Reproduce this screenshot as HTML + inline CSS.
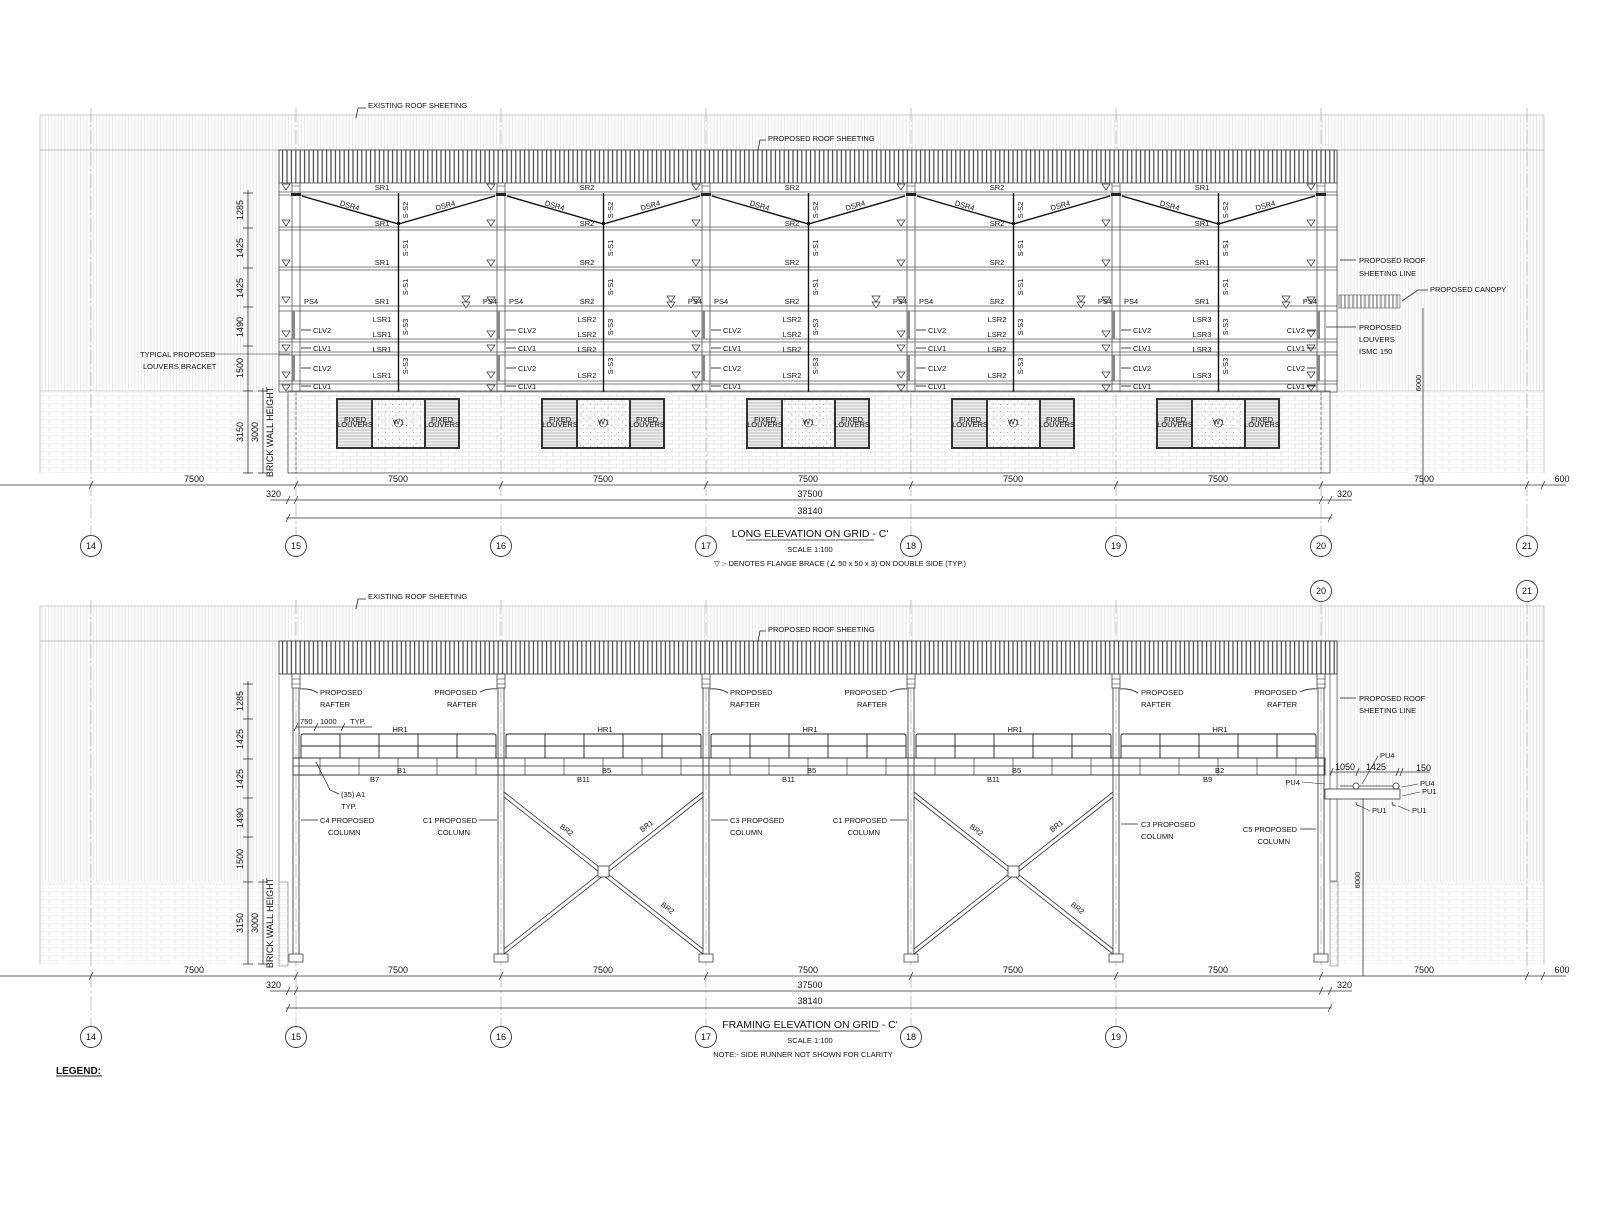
<!DOCTYPE html>
<html><head><meta charset="utf-8"><style>
html,body{margin:0;padding:0;background:#fff}
svg{display:block}
text{font-family:"Liberation Sans Narrow","Liberation Sans",sans-serif;font-size:7.5px;fill:#111}
.t9{font-size:9px}.t10{font-size:10.5px}
.m{text-anchor:middle}.e{text-anchor:end}
</style></head><body>
<svg width="1600" height="1222" viewBox="0 0 1600 1222" xmlns="http://www.w3.org/2000/svg">
<defs>
<pattern id="hl" width="3.2" height="10" patternUnits="userSpaceOnUse"><line x1="0.5" y1="0" x2="0.5" y2="10" stroke="#dcdcdc" stroke-width="0.7"/></pattern>
<pattern id="rp" width="4.4" height="10" patternUnits="userSpaceOnUse"><rect width="4.4" height="10" fill="#fff"/><line x1="1" y1="0" x2="1" y2="10" stroke="#444" stroke-width="1.2"/></pattern>
<pattern id="br" width="14" height="8" patternUnits="userSpaceOnUse"><path d="M0 0H14M0 4H14M0 0V4M7 4V8" stroke="#d8d8d8" stroke-width="0.6" fill="none"/></pattern>
<pattern id="lv" width="4" height="3" patternUnits="userSpaceOnUse"><rect width="4" height="3" fill="#eee"/><line x1="0" y1="1" x2="4" y2="1" stroke="#aaa" stroke-width="0.7"/></pattern>
<pattern id="dt" width="7" height="7" patternUnits="userSpaceOnUse"><circle cx="2" cy="2" r="0.5" fill="#999"/><circle cx="5.5" cy="5.5" r="0.5" fill="#999"/></pattern>
<pattern id="cp" width="4" height="10" patternUnits="userSpaceOnUse"><line x1="1" y1="0" x2="1" y2="10" stroke="#555" stroke-width="0.9"/></pattern>
<g id="tri"><path d="M-4,-3 L4,-3 L0,3 Z" fill="#fff" stroke="#333" stroke-width="0.7"/></g>
<g id="colT">
<line x1="-4" y1="183" x2="-4" y2="392" stroke="#555" stroke-width="0.8"/>
<line x1="4" y1="183" x2="4" y2="392" stroke="#555" stroke-width="0.8"/>
<rect x="-4" y="311" width="3" height="28" fill="#888"/>
<rect x="-4" y="355" width="3" height="26" fill="#888"/>
<rect x="-5" y="193" width="10" height="3" fill="#222"/>
<line x1="-4" y1="186" x2="4" y2="186" stroke="#555" stroke-width="0.6"/>
</g>
<g id="triC">
<use href="#tri" x="-10" y="187"/><use href="#tri" x="-10" y="223"/><use href="#tri" x="-10" y="263"/>
<use href="#tri" x="-10" y="300"/><use href="#tri" x="-10" y="334"/><use href="#tri" x="-10" y="348"/><use href="#tri" x="-10" y="375"/><use href="#tri" x="-10" y="388"/>
</g>
<g id="bayT">
<line x1="102.5" y1="193" x2="102.5" y2="392" stroke="#111" stroke-width="1.4"/>
<polyline points="6,196 102.5,224 199,196" fill="none" stroke="#111" stroke-width="1.4"/>
<rect x="102.5" y="222" width="3" height="3" fill="#111" transform="translate(-1.5,0)"/>
<rect x="41" y="399" width="122" height="49" fill="url(#dt)" stroke="#333" stroke-width="2"/>
<rect x="41" y="399" width="35" height="49" fill="url(#lv)" stroke="#333" stroke-width="2"/>
<rect x="129" y="399" width="34" height="49" fill="url(#lv)" stroke="#333" stroke-width="2"/>
<circle cx="102.5" cy="423" r="4" fill="#fff" stroke="#333" stroke-width="0.6"/>
<use href="#tri" x="170" y="299"/><use href="#tri" x="170" y="305"/>
</g>
<g id="colB">
<line x1="-3" y1="674" x2="-3" y2="960" stroke="#444" stroke-width="0.9"/>
<line x1="3" y1="674" x2="3" y2="960" stroke="#444" stroke-width="0.9"/>
<rect x="-4" y="674" width="8" height="14" fill="#fff" stroke="#444" stroke-width="0.8"/>
<line x1="-4" y1="679" x2="4" y2="679" stroke="#444" stroke-width="0.6"/><line x1="-4" y1="684" x2="4" y2="684" stroke="#444" stroke-width="0.6"/>
<rect x="-7" y="954" width="14" height="8" fill="#fff" stroke="#444" stroke-width="0.8"/>
</g>
<g id="hrB" fill="none" stroke="#222" stroke-width="0.9">
<path d="M5,758 V736 Q5,734 7,734 H198 Q200,734 200,736 V758"/>
<line x1="5" y1="746" x2="200" y2="746"/>
<line x1="44" y1="734" x2="44" y2="758"/><line x1="83" y1="734" x2="83" y2="758"/><line x1="122" y1="734" x2="122" y2="758"/><line x1="161" y1="734" x2="161" y2="758"/>
<line x1="24" y1="758" x2="24" y2="775" stroke-width="0.6"/><line x1="63" y1="758" x2="63" y2="775" stroke-width="0.6"/><line x1="102" y1="758" x2="102" y2="775" stroke-width="0.6"/><line x1="141" y1="758" x2="141" y2="775" stroke-width="0.6"/><line x1="180" y1="758" x2="180" y2="775" stroke-width="0.6"/>
</g>
<g id="brace" fill="none" stroke="#333" stroke-width="0.8">
<line x1="3" y1="792" x2="202" y2="949"/><line x1="3" y1="797" x2="202" y2="954"/>
<line x1="3" y1="949" x2="202" y2="792"/><line x1="3" y1="954" x2="202" y2="797"/>
<rect x="97" y="866" width="11" height="11" fill="#fff"/>
</g>
</defs>

<!-- ================= TOP ELEVATION ================= -->
<rect x="40" y="115" width="1504" height="276" fill="url(#hl)"/>
<rect x="40" y="391" width="1504" height="82" fill="url(#br)"/>
<line x1="40" y1="115" x2="1544" y2="115" stroke="#bbb" stroke-width="0.8"/>
<line x1="40" y1="150" x2="1544" y2="150" stroke="#aaa" stroke-width="0.8"/>
<line x1="40" y1="115" x2="40" y2="473" stroke="#bbb" stroke-width="0.8"/>
<line x1="1544" y1="115" x2="1544" y2="473" stroke="#bbb" stroke-width="0.8"/>
<line x1="40" y1="391" x2="279" y2="391" stroke="#ccc" stroke-width="0.8"/>
<line x1="1337" y1="391" x2="1544" y2="391" stroke="#ccc" stroke-width="0.8"/>
<g stroke="#aaa" stroke-width="0.7" stroke-dasharray="14,3,2,3">
<line x1="91" y1="108" x2="91" y2="536"/><line x1="1527" y1="108" x2="1527" y2="536"/>
<line x1="296" y1="108" x2="296" y2="536"/><line x1="501" y1="108" x2="501" y2="536"/><line x1="706" y1="108" x2="706" y2="536"/><line x1="911" y1="108" x2="911" y2="536"/><line x1="1116" y1="108" x2="1116" y2="536"/><line x1="1321" y1="108" x2="1321" y2="536"/>
</g>
<rect x="279" y="150" width="1058" height="33" fill="url(#rp)" stroke="#333" stroke-width="0.8"/>
<rect x="279" y="183" width="1058" height="209" fill="#fff" stroke="#555" stroke-width="0.8"/>
<rect x="288" y="391" width="1042" height="82" fill="url(#br)" stroke="#555" stroke-width="0.8"/>
<line x1="296" y1="392" x2="296" y2="473" stroke="#555" stroke-width="0.7" stroke-dasharray="3,2"/>
<line x1="1321" y1="392" x2="1321" y2="473" stroke="#555" stroke-width="0.7" stroke-dasharray="3,2"/>
<g stroke="#555" stroke-width="0.8">
<line x1="279" y1="192" x2="1337" y2="192"/><line x1="279" y1="195" x2="1337" y2="195"/>
<line x1="279" y1="227" x2="1337" y2="227"/><line x1="279" y1="230" x2="1337" y2="230"/>
<line x1="279" y1="267" x2="1337" y2="267"/><line x1="279" y1="270" x2="1337" y2="270"/>
<line x1="279" y1="306" x2="1337" y2="306"/><line x1="279" y1="311" x2="1337" y2="311"/>
<line x1="279" y1="339" x2="1337" y2="339"/><line x1="279" y1="342" x2="1337" y2="342"/>
<line x1="279" y1="352" x2="1337" y2="352"/><line x1="279" y1="355" x2="1337" y2="355"/>
<line x1="279" y1="381" x2="1337" y2="381"/><line x1="279" y1="384" x2="1337" y2="384"/>
</g>
<use href="#bayT" x="296"/><use href="#bayT" x="501"/><use href="#bayT" x="706"/><use href="#bayT" x="911"/><use href="#bayT" x="1116"/>
<use href="#colT" x="296"/><use href="#colT" x="501"/><use href="#colT" x="706"/><use href="#colT" x="911"/><use href="#colT" x="1116"/><use href="#colT" x="1321"/>
<use href="#triC" x="296"/><use href="#triC" x="501"/><use href="#triC" x="706"/><use href="#triC" x="911"/><use href="#triC" x="1116"/><use href="#triC" x="1321"/>

<g>
<text class="m" x="382" y="190">SR1</text><text class="m" x="382" y="226">SR1</text><text class="m" x="382" y="265">SR1</text><text class="m" x="382" y="304">SR1</text>
<text class="m" x="382" y="322">LSR1</text><text class="m" x="382" y="337">LSR1</text><text class="m" x="382" y="352">LSR1</text><text class="m" x="382" y="378">LSR1</text>
<text class="m" x="587" y="190">SR2</text><text class="m" x="587" y="226">SR2</text><text class="m" x="587" y="265">SR2</text><text class="m" x="587" y="304">SR2</text>
<text class="m" x="587" y="322">LSR2</text><text class="m" x="587" y="337">LSR2</text><text class="m" x="587" y="352">LSR2</text><text class="m" x="587" y="378">LSR2</text>
<text class="m" x="792" y="190">SR2</text><text class="m" x="792" y="226">SR2</text><text class="m" x="792" y="265">SR2</text><text class="m" x="792" y="304">SR2</text>
<text class="m" x="792" y="322">LSR2</text><text class="m" x="792" y="337">LSR2</text><text class="m" x="792" y="352">LSR2</text><text class="m" x="792" y="378">LSR2</text>
<text class="m" x="997" y="190">SR2</text><text class="m" x="997" y="226">SR2</text><text class="m" x="997" y="265">SR2</text><text class="m" x="997" y="304">SR2</text>
<text class="m" x="997" y="322">LSR2</text><text class="m" x="997" y="337">LSR2</text><text class="m" x="997" y="352">LSR2</text><text class="m" x="997" y="378">LSR2</text>
<text class="m" x="1202" y="190">SR1</text><text class="m" x="1202" y="226">SR1</text><text class="m" x="1202" y="265">SR1</text><text class="m" x="1202" y="304">SR1</text>
<text class="m" x="1202" y="322">LSR3</text><text class="m" x="1202" y="337">LSR3</text><text class="m" x="1202" y="352">LSR3</text><text class="m" x="1202" y="378">LSR3</text>
</g>
<g>
<text class="m" transform="translate(349,208) rotate(16)">DSR4</text><text class="m" transform="translate(446,208) rotate(-16)">DSR4</text>
<text class="m" transform="translate(554,208) rotate(16)">DSR4</text><text class="m" transform="translate(651,208) rotate(-16)">DSR4</text>
<text class="m" transform="translate(759,208) rotate(16)">DSR4</text><text class="m" transform="translate(856,208) rotate(-16)">DSR4</text>
<text class="m" transform="translate(964,208) rotate(16)">DSR4</text><text class="m" transform="translate(1061,208) rotate(-16)">DSR4</text>
<text class="m" transform="translate(1169,208) rotate(16)">DSR4</text><text class="m" transform="translate(1266,208) rotate(-16)">DSR4</text>
</g>
<g>
<text class="m" transform="translate(408,210) rotate(-90)">S-S2</text><text class="m" transform="translate(408,248) rotate(-90)">S-S1</text><text class="m" transform="translate(408,287) rotate(-90)">S-S1</text><text class="m" transform="translate(408,327) rotate(-90)">S-S3</text><text class="m" transform="translate(408,366) rotate(-90)">S-S3</text>
<text class="m" transform="translate(613,210) rotate(-90)">S-S2</text><text class="m" transform="translate(613,248) rotate(-90)">S-S1</text><text class="m" transform="translate(613,287) rotate(-90)">S-S1</text><text class="m" transform="translate(613,327) rotate(-90)">S-S3</text><text class="m" transform="translate(613,366) rotate(-90)">S-S3</text>
<text class="m" transform="translate(818,210) rotate(-90)">S-S2</text><text class="m" transform="translate(818,248) rotate(-90)">S-S1</text><text class="m" transform="translate(818,287) rotate(-90)">S-S1</text><text class="m" transform="translate(818,327) rotate(-90)">S-S3</text><text class="m" transform="translate(818,366) rotate(-90)">S-S3</text>
<text class="m" transform="translate(1023,210) rotate(-90)">S-S2</text><text class="m" transform="translate(1023,248) rotate(-90)">S-S1</text><text class="m" transform="translate(1023,287) rotate(-90)">S-S1</text><text class="m" transform="translate(1023,327) rotate(-90)">S-S3</text><text class="m" transform="translate(1023,366) rotate(-90)">S-S3</text>
<text class="m" transform="translate(1228,210) rotate(-90)">S-S2</text><text class="m" transform="translate(1228,248) rotate(-90)">S-S1</text><text class="m" transform="translate(1228,287) rotate(-90)">S-S1</text><text class="m" transform="translate(1228,327) rotate(-90)">S-S3</text><text class="m" transform="translate(1228,366) rotate(-90)">S-S3</text>
</g>
<g>
<text x="304" y="304">PS4</text>
<text class="e" x="497" y="304">PS4</text><text x="509" y="304">PS4</text>
<text class="e" x="702" y="304">PS4</text><text x="714" y="304">PS4</text>
<text class="e" x="907" y="304">PS4</text><text x="919" y="304">PS4</text>
<text class="e" x="1112" y="304">PS4</text><text x="1124" y="304">PS4</text>
<text class="e" x="1317" y="304">PS4</text>
</g>
<g stroke="#111" stroke-width="0.8">
<line x1="301" y1="330" x2="311" y2="330"/><line x1="301" y1="348" x2="311" y2="348"/><line x1="301" y1="368" x2="311" y2="368"/><line x1="301" y1="386" x2="311" y2="386"/>
<line x1="506" y1="330" x2="516" y2="330"/><line x1="506" y1="348" x2="516" y2="348"/><line x1="506" y1="368" x2="516" y2="368"/><line x1="506" y1="386" x2="516" y2="386"/>
<line x1="711" y1="330" x2="721" y2="330"/><line x1="711" y1="348" x2="721" y2="348"/><line x1="711" y1="368" x2="721" y2="368"/><line x1="711" y1="386" x2="721" y2="386"/>
<line x1="916" y1="330" x2="926" y2="330"/><line x1="916" y1="348" x2="926" y2="348"/><line x1="916" y1="368" x2="926" y2="368"/><line x1="916" y1="386" x2="926" y2="386"/>
<line x1="1121" y1="330" x2="1131" y2="330"/><line x1="1121" y1="348" x2="1131" y2="348"/><line x1="1121" y1="368" x2="1131" y2="368"/><line x1="1121" y1="386" x2="1131" y2="386"/>
<line x1="1307" y1="330" x2="1316" y2="330"/><line x1="1307" y1="348" x2="1316" y2="348"/><line x1="1307" y1="368" x2="1316" y2="368"/><line x1="1307" y1="386" x2="1316" y2="386"/>
</g>
<g>
<text x="313" y="333">CLV2</text><text x="313" y="351">CLV1</text><text x="313" y="371">CLV2</text><text x="313" y="389">CLV1</text>
<text x="518" y="333">CLV2</text><text x="518" y="351">CLV1</text><text x="518" y="371">CLV2</text><text x="518" y="389">CLV1</text>
<text x="723" y="333">CLV2</text><text x="723" y="351">CLV1</text><text x="723" y="371">CLV2</text><text x="723" y="389">CLV1</text>
<text x="928" y="333">CLV2</text><text x="928" y="351">CLV1</text><text x="928" y="371">CLV2</text><text x="928" y="389">CLV1</text>
<text x="1133" y="333">CLV2</text><text x="1133" y="351">CLV1</text><text x="1133" y="371">CLV2</text><text x="1133" y="389">CLV1</text>
<text class="e" x="1305" y="333">CLV2</text><text class="e" x="1305" y="351">CLV1</text><text class="e" x="1305" y="371">CLV2</text><text class="e" x="1305" y="389">CLV1</text>
</g>
<g style="font-size:3.6px">
<text class="m" x="355" y="422">FIXED</text><text class="m" x="355" y="427">LOUVERS</text><text class="m" x="442" y="422">FIXED</text><text class="m" x="442" y="427">LOUVERS</text>
<text class="m" x="560" y="422">FIXED</text><text class="m" x="560" y="427">LOUVERS</text><text class="m" x="647" y="422">FIXED</text><text class="m" x="647" y="427">LOUVERS</text>
<text class="m" x="765" y="422">FIXED</text><text class="m" x="765" y="427">LOUVERS</text><text class="m" x="852" y="422">FIXED</text><text class="m" x="852" y="427">LOUVERS</text>
<text class="m" x="970" y="422">FIXED</text><text class="m" x="970" y="427">LOUVERS</text><text class="m" x="1057" y="422">FIXED</text><text class="m" x="1057" y="427">LOUVERS</text>
<text class="m" x="1175" y="422">FIXED</text><text class="m" x="1175" y="427">LOUVERS</text><text class="m" x="1262" y="422">FIXED</text><text class="m" x="1262" y="427">LOUVERS</text>
<text class="m" x="398.5" y="424.5">W1</text><text class="m" x="603.5" y="424.5">W1</text><text class="m" x="808.5" y="424.5">W1</text><text class="m" x="1013.5" y="424.5">W1</text><text class="m" x="1218.5" y="424.5">W1</text>
</g>
<path d="M356,118 L358,108 H366" fill="none" stroke="#222" stroke-width="0.8"/>
<text x="368" y="108">EXISTING ROOF SHEETING</text>
<path d="M758,150 L760,140 H766" fill="none" stroke="#222" stroke-width="0.8"/>
<text x="768" y="141">PROPOSED ROOF SHEETING</text>
<line x1="1340" y1="260" x2="1356" y2="260" stroke="#222" stroke-width="0.8"/>
<text x="1359" y="263">PROPOSED ROOF</text><text x="1359" y="276">SHEETING LINE</text>
<rect x="1339" y="295" width="61" height="13" fill="url(#cp)" stroke="#555" stroke-width="0.6"/>
<path d="M1402,301 L1418,290 H1428" fill="none" stroke="#222" stroke-width="0.8"/>
<text x="1430" y="292">PROPOSED CANOPY</text>
<line x1="1326" y1="327" x2="1356" y2="327" stroke="#222" stroke-width="0.8"/>
<text x="1359" y="330">PROPOSED</text><text x="1359" y="342">LOUVERS</text><text x="1359" y="354">ISMC 150</text>
<line x1="1423" y1="308" x2="1423" y2="485" stroke="#333" stroke-width="0.8"/>
<text class="m" transform="translate(1421,383) rotate(-90)">6000</text>
<line x1="210" y1="354" x2="290" y2="354" stroke="#222" stroke-width="0.6"/>
<text x="140" y="357">TYPICAL PROPOSED</text><text x="143" y="369">LOUVERS BRACKET</text>
<g stroke="#333" stroke-width="0.8">
<line x1="248" y1="190" x2="248" y2="473"/>
<line x1="243" y1="193" x2="253" y2="193"/><line x1="243" y1="228" x2="253" y2="228"/><line x1="243" y1="268" x2="253" y2="268"/><line x1="243" y1="307" x2="253" y2="307"/><line x1="243" y1="346" x2="253" y2="346"/><line x1="243" y1="391" x2="253" y2="391"/><line x1="243" y1="473" x2="253" y2="473"/>
<line x1="263" y1="388" x2="263" y2="473"/><line x1="258" y1="391" x2="268" y2="391"/><line x1="258" y1="473" x2="268" y2="473"/>
</g>
<g>
<text class="m t9" transform="translate(243,210) rotate(-90)">1285</text>
<text class="m t9" transform="translate(243,248) rotate(-90)">1425</text>
<text class="m t9" transform="translate(243,288) rotate(-90)">1425</text>
<text class="m t9" transform="translate(243,327) rotate(-90)">1490</text>
<text class="m t9" transform="translate(243,368) rotate(-90)">1500</text>
<text class="m t9" transform="translate(243,432) rotate(-90)">3150</text>
<text class="m t9" transform="translate(258,432) rotate(-90)">3000</text>
<text class="m t9" transform="translate(273,432) rotate(-90)">BRICK WALL HEIGHT</text>
</g>
<g stroke="#333" stroke-width="0.8">
<line x1="0" y1="485" x2="1566" y2="485"/>
<line x1="270" y1="500" x2="1352" y2="500"/>
<line x1="286" y1="518" x2="1332" y2="518"/>
</g>
<g stroke="#333" stroke-width="0.8">
<line x1="89" y1="489" x2="93" y2="481"/><line x1="294" y1="489" x2="298" y2="481"/><line x1="499" y1="489" x2="503" y2="481"/><line x1="704" y1="489" x2="708" y2="481"/><line x1="909" y1="489" x2="913" y2="481"/><line x1="1114" y1="489" x2="1118" y2="481"/><line x1="1319" y1="489" x2="1323" y2="481"/><line x1="1525" y1="489" x2="1529" y2="481"/><line x1="1541" y1="489" x2="1545" y2="481"/>
<line x1="286" y1="504" x2="290" y2="496"/><line x1="294" y1="504" x2="298" y2="496"/><line x1="1319" y1="504" x2="1323" y2="496"/><line x1="1328" y1="504" x2="1332" y2="496"/>
<line x1="286" y1="522" x2="290" y2="514"/><line x1="1328" y1="522" x2="1332" y2="514"/>
</g>
<g>
<text class="m t9" x="194" y="482">7500</text><text class="m t9" x="398" y="482">7500</text><text class="m t9" x="603" y="482">7500</text><text class="m t9" x="808" y="482">7500</text><text class="m t9" x="1013" y="482">7500</text><text class="m t9" x="1218" y="482">7500</text><text class="m t9" x="1424" y="482">7500</text><text class="m t9" x="1562" y="482">600</text>
<text class="t9" x="266" y="497">320</text><text class="t9" x="1337" y="497">320</text>
<text class="m t9" x="810" y="497">37500</text><text class="m t9" x="810" y="514">38140</text>
</g>
<g fill="#fff" stroke="#333" stroke-width="0.9">
<circle cx="91" cy="546" r="10.5"/><circle cx="296" cy="546" r="10.5"/><circle cx="501" cy="546" r="10.5"/><circle cx="706" cy="546" r="10.5"/><circle cx="911" cy="546" r="10.5"/><circle cx="1116" cy="546" r="10.5"/><circle cx="1321" cy="546" r="10.5"/><circle cx="1527" cy="546" r="10.5"/>
<circle cx="1321" cy="591" r="10.5"/><circle cx="1527" cy="591" r="10.5"/>
</g>
<g>
<text class="m t9" x="91" y="549">14</text><text class="m t9" x="296" y="549">15</text><text class="m t9" x="501" y="549">16</text><text class="m t9" x="706" y="549">17</text><text class="m t9" x="911" y="549">18</text><text class="m t9" x="1116" y="549">19</text><text class="m t9" x="1321" y="549">20</text><text class="m t9" x="1527" y="549">21</text>
<text class="m t9" x="1321" y="594">20</text><text class="m t9" x="1527" y="594">21</text>
</g>
<text class="m t10" x="810" y="537">LONG ELEVATION ON GRID - C'</text>
<line x1="746" y1="540" x2="874" y2="540" stroke="#222" stroke-width="0.8"/>
<text class="m" x="810" y="552">SCALE 1:100</text>
<text class="m" x="840" y="566">▽ :- DENOTES FLANGE BRACE (∠ 50 x 50 x 3) ON DOUBLE SIDE (TYP.)</text>

<!-- ================= BOTTOM ELEVATION ================= -->
<rect x="40" y="606" width="1504" height="276" fill="url(#hl)"/>
<rect x="40" y="882" width="1504" height="82" fill="url(#br)"/>
<line x1="40" y1="606" x2="1544" y2="606" stroke="#bbb" stroke-width="0.8"/>
<line x1="40" y1="641" x2="1544" y2="641" stroke="#aaa" stroke-width="0.8"/>
<line x1="40" y1="606" x2="40" y2="964" stroke="#bbb" stroke-width="0.8"/>
<line x1="1544" y1="606" x2="1544" y2="964" stroke="#bbb" stroke-width="0.8"/>
<rect x="279" y="641" width="1051" height="325" fill="#fff"/>
<rect x="1330" y="641" width="7" height="240" fill="#fff" stroke="#555" stroke-width="0.7"/>
<rect x="279" y="882" width="9" height="84" fill="url(#br)" stroke="#777" stroke-width="0.6"/>
<rect x="1330" y="882" width="8" height="84" fill="url(#br)" stroke="#777" stroke-width="0.6"/>
<line x1="279" y1="674" x2="279" y2="882" stroke="#777" stroke-width="0.6"/>
<g stroke="#aaa" stroke-width="0.7" stroke-dasharray="14,3,2,3">
<line x1="91" y1="600" x2="91" y2="1026"/><line x1="1527" y1="600" x2="1527" y2="976"/>
<line x1="296" y1="600" x2="296" y2="1026"/><line x1="501" y1="600" x2="501" y2="1026"/><line x1="706" y1="600" x2="706" y2="1026"/><line x1="911" y1="600" x2="911" y2="1026"/><line x1="1116" y1="600" x2="1116" y2="1026"/><line x1="1321" y1="600" x2="1321" y2="976"/>
</g>
<rect x="279" y="641" width="1058" height="33" fill="url(#rp)" stroke="#333" stroke-width="0.8"/>
<rect x="293" y="758" width="1032" height="17" fill="#fff" stroke="#222" stroke-width="0.9"/>
<line x1="293" y1="766" x2="1325" y2="766" stroke="#222" stroke-width="0.7"/>
<use href="#hrB" x="296"/><use href="#hrB" x="501"/><use href="#hrB" x="706"/><use href="#hrB" x="911"/><use href="#hrB" x="1116"/>
<use href="#brace" x="501"/><use href="#brace" x="911"/>
<use href="#colB" x="296"/><use href="#colB" x="501"/><use href="#colB" x="706"/><use href="#colB" x="911"/><use href="#colB" x="1116"/><use href="#colB" x="1321"/>
<g stroke="#333" stroke-width="0.8" fill="#fff">
<rect x="1325" y="789" width="75" height="10"/>
<line x1="1340" y1="786" x2="1400" y2="786"/>
<line x1="1363" y1="799" x2="1363" y2="976"/>
<circle cx="1356" cy="786" r="3"/><circle cx="1396" cy="786" r="3"/>
<path d="M1356,802 q0,4 4,4 M1392,802 q0,4 4,4" fill="none"/>
<line x1="1330" y1="772" x2="1430" y2="772"/>
<line x1="1330" y1="776" x2="1333" y2="768"/><line x1="1356" y1="776" x2="1359" y2="768"/><line x1="1396" y1="776" x2="1399" y2="768"/><line x1="1400" y1="776" x2="1403" y2="768"/>
</g>
<text class="t9" x="1335" y="770">1050</text><text class="t9" x="1366" y="770">1425</text><text class="t9" x="1416" y="771">150</text>
<g style="font-size:6px">
<text class="e" x="1300" y="785">PU4</text><text x="1380" y="758">PU4</text><text x="1420" y="786">PU4</text><text x="1422" y="794">PU1</text><text x="1372" y="813">PU1</text><text x="1412" y="813">PU1</text>
</g>
<g stroke="#222" stroke-width="0.6" fill="none">
<line x1="1302" y1="782" x2="1325" y2="784"/><line x1="1378" y1="756" x2="1362" y2="784"/><line x1="1418" y1="784" x2="1402" y2="787"/><line x1="1420" y1="792" x2="1402" y2="796"/><line x1="1370" y1="811" x2="1360" y2="806"/><line x1="1410" y1="811" x2="1398" y2="806"/>
</g>
<text class="m" transform="translate(1360,880) rotate(-90)">6000</text>
<path d="M356,609 L358,599 H366" fill="none" stroke="#222" stroke-width="0.8"/>
<text x="368" y="599">EXISTING ROOF SHEETING</text>
<path d="M758,641 L760,631 H766" fill="none" stroke="#222" stroke-width="0.8"/>
<text x="768" y="632">PROPOSED ROOF SHEETING</text>
<line x1="1340" y1="698" x2="1356" y2="698" stroke="#222" stroke-width="0.8"/>
<text x="1359" y="701">PROPOSED ROOF</text><text x="1359" y="713">SHEETING LINE</text>
<g stroke="#222" stroke-width="0.8" fill="none">
<path d="M300,689 Q310,688 318,693"/><path d="M497,689 Q488,688 480,692"/><path d="M710,689 Q720,688 728,693"/><path d="M907,689 Q898,688 890,692"/><path d="M1120,689 Q1130,688 1138,693"/><path d="M1317,689 Q1308,688 1300,692"/>
<line x1="301" y1="820" x2="318" y2="820"/><line x1="497" y1="820" x2="479" y2="820"/><line x1="711" y1="820" x2="728" y2="820"/><line x1="907" y1="820" x2="890" y2="820"/><line x1="1121" y1="824" x2="1138" y2="824"/><line x1="1316" y1="829" x2="1300" y2="829"/>
<polyline points="316,762 330,790 339,794"/>
<line x1="296" y1="727" x2="372" y2="727"/>
<line x1="294" y1="731" x2="298" y2="723"/><line x1="314" y1="731" x2="318" y2="723"/><line x1="341" y1="731" x2="345" y2="723"/>
</g>
<g>
<text x="320" y="695">PROPOSED</text><text x="320" y="707">RAFTER</text>
<text class="e" x="477" y="695">PROPOSED</text><text class="e" x="477" y="707">RAFTER</text>
<text x="730" y="695">PROPOSED</text><text x="730" y="707">RAFTER</text>
<text class="e" x="887" y="695">PROPOSED</text><text class="e" x="887" y="707">RAFTER</text>
<text x="1141" y="695">PROPOSED</text><text x="1141" y="707">RAFTER</text>
<text class="e" x="1297" y="695">PROPOSED</text><text class="e" x="1297" y="707">RAFTER</text>
<text x="300" y="724">750</text><text x="320" y="724">1000</text><text x="350" y="724">TYP.</text>
<text class="m" x="400" y="732">HR1</text><text class="m" x="605" y="732">HR1</text><text class="m" x="810" y="732">HR1</text><text class="m" x="1015" y="732">HR1</text><text class="m" x="1220" y="732">HR1</text>
<text x="370" y="782">B7</text><text x="397" y="773">B1</text>
<text x="577" y="782">B11</text><text x="602" y="773">B5</text>
<text x="782" y="782">B11</text><text x="807" y="773">B5</text>
<text x="987" y="782">B11</text><text x="1012" y="773">B5</text>
<text x="1203" y="782">B9</text><text x="1215" y="773">B2</text>
<text x="341" y="797">(35) A1</text><text x="341" y="809">TYP.</text>
<text x="320" y="823">C4 PROPOSED</text><text x="328" y="835">COLUMN</text>
<text class="e" x="477" y="823">C1 PROPOSED</text><text class="e" x="470" y="835">COLUMN</text>
<text x="730" y="823">C3 PROPOSED</text><text x="730" y="835">COLUMN</text>
<text class="e" x="887" y="823">C1 PROPOSED</text><text class="e" x="880" y="835">COLUMN</text>
<text x="1141" y="827">C3 PROPOSED</text><text x="1141" y="839">COLUMN</text>
<text class="e" x="1297" y="832">C5 PROPOSED</text><text class="e" x="1290" y="844">COLUMN</text>
<text class="m" transform="translate(565,832) rotate(38)">BR2</text><text class="m" transform="translate(648,828) rotate(-38)">BR1</text><text class="m" transform="translate(666,910) rotate(38)">BR2</text>
<text class="m" transform="translate(975,832) rotate(38)">BR2</text><text class="m" transform="translate(1058,828) rotate(-38)">BR1</text><text class="m" transform="translate(1076,910) rotate(38)">BR2</text>
</g>
<g stroke="#333" stroke-width="0.8">
<line x1="248" y1="681" x2="248" y2="964"/>
<line x1="243" y1="684" x2="253" y2="684"/><line x1="243" y1="719" x2="253" y2="719"/><line x1="243" y1="759" x2="253" y2="759"/><line x1="243" y1="798" x2="253" y2="798"/><line x1="243" y1="837" x2="253" y2="837"/><line x1="243" y1="882" x2="253" y2="882"/><line x1="243" y1="964" x2="253" y2="964"/>
<line x1="263" y1="879" x2="263" y2="964"/><line x1="258" y1="882" x2="268" y2="882"/><line x1="258" y1="964" x2="268" y2="964"/>
</g>
<g>
<text class="m t9" transform="translate(243,701) rotate(-90)">1285</text>
<text class="m t9" transform="translate(243,739) rotate(-90)">1425</text>
<text class="m t9" transform="translate(243,779) rotate(-90)">1425</text>
<text class="m t9" transform="translate(243,818) rotate(-90)">1490</text>
<text class="m t9" transform="translate(243,859) rotate(-90)">1500</text>
<text class="m t9" transform="translate(243,923) rotate(-90)">3150</text>
<text class="m t9" transform="translate(258,923) rotate(-90)">3000</text>
<text class="m t9" transform="translate(273,923) rotate(-90)">BRICK WALL HEIGHT</text>
</g>
<g stroke="#333" stroke-width="0.8">
<line x1="0" y1="976" x2="1566" y2="976"/>
<line x1="270" y1="991" x2="1352" y2="991"/>
<line x1="286" y1="1008" x2="1332" y2="1008"/>
<line x1="89" y1="980" x2="93" y2="972"/><line x1="294" y1="980" x2="298" y2="972"/><line x1="499" y1="980" x2="503" y2="972"/><line x1="704" y1="980" x2="708" y2="972"/><line x1="909" y1="980" x2="913" y2="972"/><line x1="1114" y1="980" x2="1118" y2="972"/><line x1="1319" y1="980" x2="1323" y2="972"/><line x1="1525" y1="980" x2="1529" y2="972"/><line x1="1541" y1="980" x2="1545" y2="972"/>
<line x1="286" y1="995" x2="290" y2="987"/><line x1="294" y1="995" x2="298" y2="987"/><line x1="1319" y1="995" x2="1323" y2="987"/><line x1="1328" y1="995" x2="1332" y2="987"/>
<line x1="286" y1="1012" x2="290" y2="1004"/><line x1="1328" y1="1012" x2="1332" y2="1004"/>
</g>
<g>
<text class="m t9" x="194" y="973">7500</text><text class="m t9" x="398" y="973">7500</text><text class="m t9" x="603" y="973">7500</text><text class="m t9" x="808" y="973">7500</text><text class="m t9" x="1013" y="973">7500</text><text class="m t9" x="1218" y="973">7500</text><text class="m t9" x="1424" y="973">7500</text><text class="m t9" x="1562" y="973">600</text>
<text class="t9" x="266" y="988">320</text><text class="t9" x="1337" y="988">320</text>
<text class="m t9" x="810" y="988">37500</text><text class="m t9" x="810" y="1004">38140</text>
</g>
<g fill="#fff" stroke="#333" stroke-width="0.9">
<circle cx="91" cy="1037" r="10.5"/><circle cx="296" cy="1037" r="10.5"/><circle cx="501" cy="1037" r="10.5"/><circle cx="706" cy="1037" r="10.5"/><circle cx="911" cy="1037" r="10.5"/><circle cx="1116" cy="1037" r="10.5"/>
</g>
<g>
<text class="m t9" x="91" y="1040">14</text><text class="m t9" x="296" y="1040">15</text><text class="m t9" x="501" y="1040">16</text><text class="m t9" x="706" y="1040">17</text><text class="m t9" x="911" y="1040">18</text><text class="m t9" x="1116" y="1040">19</text>
</g>
<text class="m t10" x="810" y="1028">FRAMING ELEVATION ON GRID - C'</text>
<line x1="740" y1="1031" x2="880" y2="1031" stroke="#222" stroke-width="0.8"/>
<text class="m" x="810" y="1043">SCALE 1:100</text>
<text class="m" x="803" y="1057">NOTE:- SIDE RUNNER NOT SHOWN FOR CLARITY</text>
<text x="56" y="1074" style="font-size:10px;font-weight:bold">LEGEND:</text>
<line x1="56" y1="1076" x2="102" y2="1076" stroke="#222" stroke-width="0.9"/>
</svg>
</body></html>
